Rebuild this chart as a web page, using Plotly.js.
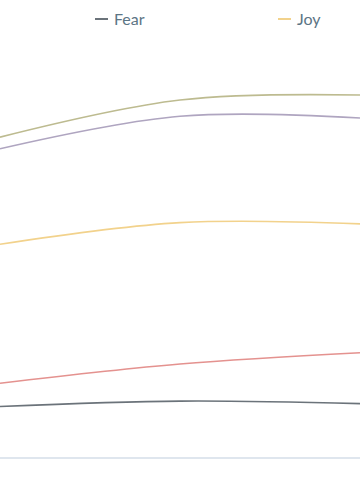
<!DOCTYPE html>
<html>
<head>
<meta charset="utf-8">
<script src="https://cdn.plot.ly/plotly-3.0.1.min.js"></script>
<style>
  html, body { margin: 0; padding: 0; background: #ffffff; overflow: hidden; }
  #chart { width: 360px; height: 500px; }
</style>
</head>
<body>
<div id="chart"></div>
<script>
// x positions of the readings (the view shows three points of each series)
const periods = [0, 1, 2];

// series values (arbitrary 0–100 scale)
const seriesA = [76.7, 85.6, 86.8];   // olive line
const seriesB = [73.9, 81.7, 81.3];   // purple line
const joy     = [51.0, 56.2, 55.9];
const seriesC = [17.7, 22.3, 25.0];   // red line
const fear    = [12.1, 13.4, 12.8];

const names  = ['Series A', 'Series B', 'Joy', 'Series C', 'Fear'];
const colors = ['#bdbb90', '#afa5c0', '#f2d28c', '#e4928f', '#6b737a'];
const values = [seriesA, seriesB, joy, seriesC, fear];

// legend entries that are visible in the view
const legendNames = ['Fear', 'Joy'];

const traces = values.map((v, i) => ({
  x: periods,
  y: v,
  name: names[i],
  type: 'scatter',
  mode: 'lines',
  line: { color: colors[i], width: 1.6, shape: 'spline', smoothing: 1.0 },
  showlegend: false,
  hoverinfo: 'x+y+name'
}));

const legendPos = { 'Fear': 95, 'Joy': 278 };   // pixel left edge of symbol
const W = 360;
const symY = 1.0504;

const shapes = legendNames.map(n => {
  const c = colors[names.indexOf(n)];
  const x0 = legendPos[n];
  return {
    type: 'line', xref: 'paper', yref: 'paper',
    x0: x0 / W, x1: (x0 + 13) / W, y0: symY, y1: symY,
    line: { color: c, width: 2 }
  };
});

const annotations = legendNames.map(n => ({
  xref: 'paper', yref: 'paper',
  x: (legendPos[n] + 17) / W, y: symY,
  xanchor: 'left', yanchor: 'middle',
  text: n, showarrow: false,
  font: { family: 'Lato, "Open Sans", sans-serif', size: 16, color: '#5c7585' }
}));

const layout = {
  width: 360, height: 500,
  margin: { l: 0, r: 0, t: 40, b: 43, pad: 0 },
  paper_bgcolor: '#ffffff',
  plot_bgcolor: '#ffffff',
  showlegend: false,
  xaxis: {
    range: [0, 2], showgrid: false, zeroline: false,
    showticklabels: false, ticks: '',
    showline: true, linecolor: '#dfe6ee', linewidth: 1.5, fixedrange: true
  },
  yaxis: {
    range: [0, 100], showgrid: false, zeroline: false,
    showticklabels: false, ticks: '', showline: false, fixedrange: true
  },
  shapes: shapes,
  annotations: annotations
};

Plotly.newPlot('chart', traces, layout, { displayModeBar: false, staticPlot: true });
</script>
</body>
</html>
